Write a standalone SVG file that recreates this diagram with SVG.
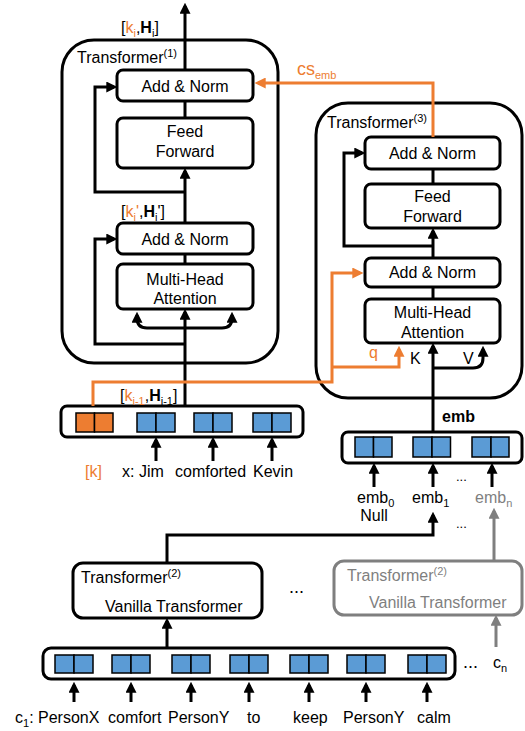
<svg xmlns="http://www.w3.org/2000/svg" width="525" height="731" viewBox="0 0 525 731">
<style>
text{font-family:"Liberation Sans",Arial,sans-serif;font-size:16px;fill:#000}
.c{text-anchor:middle}
.o{fill:#ED7D31}
.g{fill:#7F7F7F}
.b{font-weight:bold}
.s{font-size:11px}
.outer{fill:none;stroke:#000;stroke-width:3}
.box{fill:#fff;stroke:#000;stroke-width:3}
.gbox{fill:#fff;stroke:#7F7F7F;stroke-width:3}
.ln{fill:none;stroke:#000;stroke-width:3}
.lo{fill:none;stroke:#ED7D31;stroke-width:3}
.lg{fill:none;stroke:#7F7F7F;stroke-width:3}
.cb{fill:#5B9BD5;stroke:#000;stroke-width:1.5}
.co{fill:#ED7D31;stroke:#000;stroke-width:1.5}
</style>
<defs>
<marker id="ab" viewBox="0 0 10 10" refX="7" refY="5" markerWidth="11" markerHeight="11" orient="auto" markerUnits="userSpaceOnUse"><path d="M0,0 L10,5 L0,10 z" fill="#000"/></marker>
<marker id="ao" viewBox="0 0 10 10" refX="7" refY="5" markerWidth="11" markerHeight="11" orient="auto" markerUnits="userSpaceOnUse"><path d="M0,0 L10,5 L0,10 z" fill="#ED7D31"/></marker>
<marker id="ag" viewBox="0 0 10 10" refX="7" refY="5" markerWidth="11" markerHeight="11" orient="auto" markerUnits="userSpaceOnUse"><path d="M0,0 L10,5 L0,10 z" fill="#7F7F7F"/></marker>
</defs>

<g id="transformer1">
<rect class="outer" x="62" y="40" width="216" height="323" rx="32"/>
<text x="77" y="63">Transformer<tspan class="s" dy="-6">(1)</tspan></text>
</g>
<g id="t1-addnorm-top"><rect class="box" x="117" y="70" width="136" height="31" rx="6"/><text class="c" x="185" y="92">Add &amp; Norm</text></g>
<g id="t1-feedforward"><rect class="box" x="117" y="118" width="136" height="50" rx="6"/><text class="c" x="185" y="137">Feed</text><text class="c" x="185" y="157">Forward</text></g>
<g id="t1-addnorm-bottom"><rect class="box" x="117" y="223" width="136" height="31" rx="6"/><text class="c" x="185" y="245">Add &amp; Norm</text></g>
<g id="t1-mha"><rect class="box" x="117" y="264" width="136" height="45" rx="6"/><text class="c" x="185" y="285">Multi-Head</text><text class="c" x="185" y="304">Attention</text></g>

<g id="transformer3">
<rect class="outer" x="316" y="103" width="206" height="295" rx="32"/>
<text x="327" y="128">Transformer<tspan class="s" dy="-6">(3)</tspan></text>
</g>
<g id="t3-addnorm-top"><rect class="box" x="365" y="137" width="135" height="32" rx="6"/><text class="c" x="432.5" y="159">Add &amp; Norm</text></g>
<g id="t3-feedforward"><rect class="box" x="365" y="184" width="135" height="44" rx="6"/><text class="c" x="432.5" y="202">Feed</text><text class="c" x="432.5" y="222">Forward</text></g>
<g id="t3-addnorm-bottom"><rect class="box" x="365" y="258" width="135" height="29" rx="6"/><text class="c" x="432.5" y="278">Add &amp; Norm</text></g>
<g id="t3-mha"><rect class="box" x="365" y="299" width="135" height="44" rx="6"/><text class="c" x="432.5" y="318">Multi-Head</text><text class="c" x="432.5" y="338">Attention</text></g>

<g id="input-row">
<rect class="box" x="61" y="406" width="242" height="31" rx="6"/>
<rect class="co" x="76" y="413" width="18.5" height="19"/><rect class="co" x="94.5" y="413" width="18.5" height="19"/>
<rect class="cb" x="137" y="413" width="19" height="19"/><rect class="cb" x="156" y="413" width="19" height="19"/>
<rect class="cb" x="194" y="413" width="19" height="19"/><rect class="cb" x="213" y="413" width="19" height="19"/>
<rect class="cb" x="253" y="413" width="19" height="19"/><rect class="cb" x="272" y="413" width="19" height="19"/>
<text class="o" x="85" y="477">[k]</text>
<text x="122" y="477">x: Jim</text>
<text x="175" y="477">comforted</text>
<text x="253" y="477">Kevin</text>
</g>

<g id="emb-row">
<rect class="box" x="342" y="432" width="180" height="31" rx="6"/>
<rect class="cb" x="355" y="437" width="18.5" height="20"/><rect class="cb" x="373.5" y="437" width="18.5" height="20"/>
<rect class="cb" x="413" y="437" width="19" height="20"/><rect class="cb" x="432" y="437" width="18.5" height="20"/>
<rect class="cb" x="472" y="437" width="19" height="20"/><rect class="cb" x="491" y="437" width="18" height="20"/>
<text class="b" x="442" y="422">emb</text>
<text x="357" y="503">emb<tspan class="s" dy="4">0</tspan></text>
<text class="c" x="374" y="521">Null</text>
<text x="412" y="503">emb<tspan class="s" dy="4">1</tspan></text>
<text class="g" x="475" y="503">emb<tspan class="s g" dy="4">n</tspan></text>
<text style="font-size:13px" x="456" y="481">...</text>
<text style="font-size:13px" x="456" y="528">...</text>
</g>

<g id="transformer2">
<rect class="box" x="73" y="563" width="189" height="55" rx="10"/>
<text x="81" y="583">Transformer<tspan class="s" dy="-6">(2)</tspan></text>
<text x="105" y="612">Vanilla Transformer</text>
</g>
<g id="transformer2-n">
<rect class="gbox" x="334" y="561" width="188" height="54" rx="10"/>
<text class="g" x="347" y="581">Transformer<tspan class="s g" dy="-6">(2)</tspan></text>
<text class="g" x="369" y="608">Vanilla Transformer</text>
</g>
<text style="font-size:18px" x="289" y="593">...</text>

<g id="context-row">
<rect class="box" x="43" y="648" width="412" height="31" rx="8"/>
<rect class="cb" x="55" y="655" width="19" height="18"/><rect class="cb" x="74" y="655" width="19" height="18"/>
<rect class="cb" x="112" y="655" width="19" height="18"/><rect class="cb" x="131" y="655" width="19" height="18"/>
<rect class="cb" x="172" y="655" width="19" height="18"/><rect class="cb" x="191" y="655" width="19" height="18"/>
<rect class="cb" x="230" y="655" width="19" height="18"/><rect class="cb" x="249" y="655" width="19" height="18"/>
<rect class="cb" x="290" y="655" width="19" height="18"/><rect class="cb" x="309" y="655" width="19" height="18"/>
<rect class="cb" x="347" y="655" width="19" height="18"/><rect class="cb" x="366" y="655" width="19" height="18"/>
<rect class="cb" x="408" y="655" width="19" height="18"/><rect class="cb" x="427" y="655" width="19" height="18"/>
<text x="15" y="723">c<tspan class="s" dy="4">1</tspan><tspan dy="-4">: PersonX</tspan></text>
<text x="108" y="723">comfort</text>
<text x="168" y="723">PersonY</text>
<text x="247" y="723">to</text>
<text x="293" y="723">keep</text>
<text x="343" y="723">PersonY</text>
<text x="417" y="723">calm</text>
<text style="font-size:18px" x="463" y="668">...</text>
<text x="493" y="668">c<tspan class="s" dy="4">n</tspan></text>
</g>

<g id="labels">
<text x="121" y="33">[<tspan class="o">k</tspan><tspan class="o s" dy="4">i</tspan><tspan dy="-4">,</tspan><tspan class="b">H</tspan><tspan class="s" dy="4">i</tspan><tspan dy="-4">]</tspan></text>
<text x="121" y="217">[<tspan class="o">k</tspan><tspan class="o s" dy="4">i</tspan><tspan class="o" dy="-4">'</tspan><tspan>,</tspan><tspan class="b">H</tspan><tspan class="s" dy="4">i</tspan><tspan dy="-4">']</tspan></text>
<text x="120" y="401">[<tspan class="o">k</tspan><tspan class="o s" dy="4">i-1</tspan><tspan dy="-4">,</tspan><tspan class="b">H</tspan><tspan class="s" dy="4">i-1</tspan><tspan dy="-4">]</tspan></text>
<text class="o" style="font-size:18px" x="297" y="75">cs<tspan class="s o" dy="4">emb</tspan></text>
<text class="o" x="369" y="358">q</text>
<text x="410" y="364">K</text>
<text x="463" y="364">V</text>
</g>

<g id="connectors">
<path class="ln" d="M185,70 V6" marker-end="url(#ab)"/>
<path class="ln" d="M185,101 V118"/>
<path class="ln" d="M185,223 V171" marker-end="url(#ab)"/>
<path class="ln" d="M185,192 H95 V87 H114" marker-end="url(#ab)"/>
<path class="ln" d="M185,254 V264"/>
<path class="ln" d="M185,406 V312" marker-end="url(#ab)"/>
<path class="ln" d="M185,344 H95 V239 H114" marker-end="url(#ab)"/>
<path class="ln" d="M185,328 H147 Q137,328 137,318 V315" marker-end="url(#ab)"/>
<path class="ln" d="M185,328 H222 Q232,328 232,318 V315" marker-end="url(#ab)"/>
<path class="ln" d="M156,461 V440" marker-end="url(#ab)"/>
<path class="ln" d="M213,461 V440" marker-end="url(#ab)"/>
<path class="ln" d="M272,461 V440" marker-end="url(#ab)"/>

<path class="ln" d="M433,169 V184"/>
<path class="ln" d="M433,258 V231" marker-end="url(#ab)"/>
<path class="ln" d="M433,246 H344 V153 H362" marker-end="url(#ab)"/>
<path class="ln" d="M433,287 V299"/>
<path class="ln" d="M433,432 V346" marker-end="url(#ab)"/>
<path class="ln" d="M433,368 H473 Q483,368 483,358 V349" marker-end="url(#ab)"/>
<path class="ln" d="M374,487 V466" marker-end="url(#ab)"/>
<path class="ln" d="M433,487 V466" marker-end="url(#ab)"/>
<path class="ln" d="M492,487 V466" marker-end="url(#ab)"/>

<path class="lo" d="M93,406 V382 H332 V273 H360" marker-end="url(#ao)"/>
<path class="lo" d="M332,367 H399 V349" marker-end="url(#ao)"/>
<path class="lo" d="M433,137 V83 H258" marker-end="url(#ao)"/>

<path class="ln" d="M167,563 V535 H433 V515" marker-end="url(#ab)"/>
<path class="lg" d="M494,561 V511" marker-end="url(#ag)"/>
<path class="ln" d="M167,648 V621" marker-end="url(#ab)"/>
<path class="lg" d="M496,647 V618" marker-end="url(#ag)"/>

<path class="ln" d="M74,702 V685" marker-end="url(#ab)"/>
<path class="ln" d="M131,702 V685" marker-end="url(#ab)"/>
<path class="ln" d="M191,702 V685" marker-end="url(#ab)"/>
<path class="ln" d="M249,702 V685" marker-end="url(#ab)"/>
<path class="ln" d="M309,702 V685" marker-end="url(#ab)"/>
<path class="ln" d="M366,702 V685" marker-end="url(#ab)"/>
<path class="ln" d="M427,702 V685" marker-end="url(#ab)"/>
</g>
</svg>
